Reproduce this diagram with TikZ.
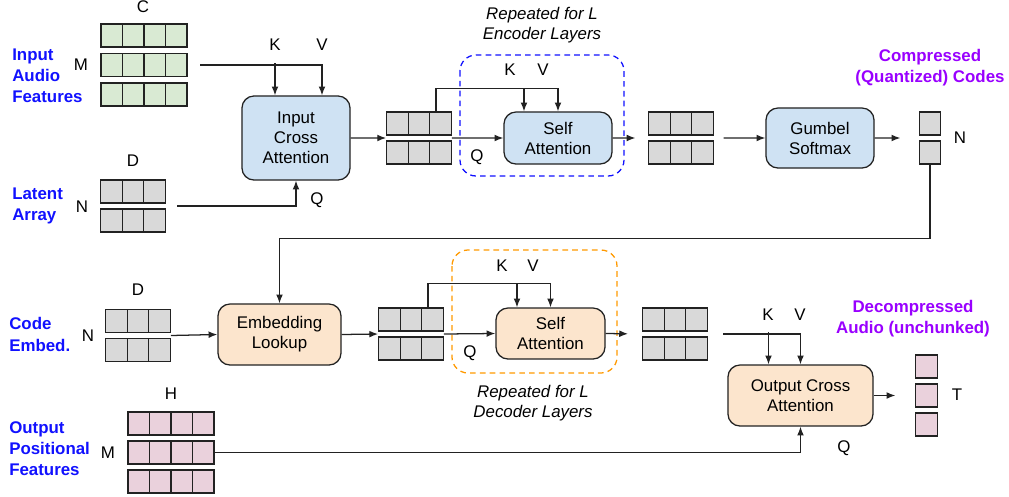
\documentclass[tikz,border=0pt]{standalone}
\usepackage{fontspec}
\setmainfont{Liberation Sans}
\usepackage{tikz}
\usetikzlibrary{arrows.meta, positioning, calc}
\usepackage{xcolor}

\definecolor{lineC}{HTML}{222222}
\definecolor{greenC}{HTML}{D9EAD3}
\definecolor{grayC}{HTML}{D9D9D9}
\definecolor{pinkC}{HTML}{EAD1DC}
\definecolor{skyC}{HTML}{CFE2F3}
\definecolor{peachC}{HTML}{FCE5CD}
\definecolor{labelBlue}{HTML}{1111FF}
\definecolor{labelPurple}{HTML}{9900FF}
\definecolor{loopOrange}{HTML}{FF9900}

\begin{document}
\begin{tikzpicture}[
    x=0.025cm, y=-0.025cm,
    font=\fontsize{12}{14.2}\selectfont,
    cellrow/.style={draw=lineC, line width=0.9pt, inner sep=0pt,
        minimum width=#1*0.5375cm, minimum height=0.575cm,
        path picture={\foreach \c in {1,...,#1}
            \draw[lineC, line width=1pt] ([xshift=\c*0.5375cm]path picture bounding box.north west)
                -- ([xshift=\c*0.5375cm]path picture bounding box.south west);}},
    inRow/.style={cellrow=4, fill=greenC},
    latRow/.style={cellrow=3, fill=grayC},
    codeRow/.style={cellrow=1, fill=grayC},
    posRow/.style={cellrow=4, fill=pinkC},
    outRow/.style={cellrow=1, fill=pinkC},
    encBox/.style={draw=lineC, line width=0.9pt, rounded corners=0.3cm, fill=skyC, align=center, inner sep=0pt},
    decBox/.style={draw=lineC, line width=0.9pt, rounded corners=0.3cm, fill=peachC, align=center, inner sep=0pt},
    arr/.style={-{Latex[length=2.2mm, width=1.7mm]}, line width=0.9pt, draw=lineC},
    sideLabel/.style={font=\fontsize{12}{15}\selectfont\bfseries, text=labelBlue, align=left, anchor=west, inner xsep=0pt},
    outLabel/.style={font=\fontsize{12}{15}\selectfont\bfseries, text=labelPurple, align=center},
    loopNote/.style={font=\fontsize{12}{14.5}\selectfont\itshape, align=center},
    dimLabel/.style={inner sep=0pt},
    encLoop/.style={draw=labelBlue, line width=0.9pt, dash pattern=on 4pt off 3pt, rounded corners=0.4cm},
    decLoop/.style={draw=loopOrange, line width=0.9pt, dash pattern=on 4pt off 3pt, rounded corners=0.4cm}
]
    \useasboundingbox (0,0) rectangle (1009,496);

    % Input Audio Features
    \node[inRow] (in1) at (144,35.5) {};
    \node[inRow] (in2) at (144,65) {};
    \node[inRow] (in3) at (144,94.5) {};
    \node[dimLabel] (cLab) at (143,7) {C};
    \node[dimLabel] (mLab) at (81,65) {M};
    \node[sideLabel] (inLab) at (12,76) {Input\\Audio\\Features};

    % Latent Array
    \node[latRow] (lat1) at (133,191.5) {};
    \node[latRow] (lat2) at (133,220.5) {};
    \node[dimLabel] (dLab) at (133,161) {D};
    \node[dimLabel] (nLab) at (82,207) {N};
    \node[sideLabel] (latLab) at (12,206) {Latent\\Array};

    % Input Cross Attention
    \node[encBox, minimum width=2.7cm, minimum height=2.1cm] (ica) at (296,138) {Input\\Cross\\Attention};
    \node[dimLabel] (icaK) at (275,45) {K};
    \node[dimLabel] (icaV) at (322,45) {V};
    \node[dimLabel] (icaQ) at (317,200) {Q};

    % Encoder Layers
    \node[latRow] (ein1) at (419,123.5) {};
    \node[latRow] (ein2) at (419,152.5) {};
    \node[encBox, minimum width=2.7cm, minimum height=1.3cm] (esa) at (558,138) {Self\\Attention};
    \node[dimLabel] (esaK) at (510,70) {K};
    \node[dimLabel] (esaV) at (543,70) {V};
    \node[dimLabel] (esaQ) at (477,157) {Q};
    \draw[encLoop] (460,55) rectangle (624,176);
    \node[loopNote] (encNote) at (542,25) {Repeated for L\\Encoder Layers};
    \node[latRow] (eout1) at (681,123.5) {};
    \node[latRow] (eout2) at (681,152.5) {};

    % Quantization
    \node[encBox, minimum width=2.7cm, minimum height=1.5cm] (gum) at (820,138) {Gumbel\\Softmax};
    \node[codeRow] (code1) at (930,123.5) {};
    \node[codeRow] (code2) at (930,152.5) {};
    \node[dimLabel] (codeN) at (960,138) {N};
    \node[outLabel] (compLab) at (930,67.5) {Compressed\\(Quantized) Codes};

    % Code Embed.
    \node[latRow] (cemb1) at (138,321) {};
    \node[latRow] (cemb2) at (138,350) {};
    \node[dimLabel] (dLab2) at (138,290) {D};
    \node[dimLabel] (nLab2) at (88,336) {N};
    \node[sideLabel] (codeLab) at (9,334.5) {Code\\Embed.};
    \node[decBox, minimum width=3.075cm, minimum height=1.525cm] (emb) at (279.5,334.5) {Embedding\\Lookup};

    % Decoder Layers
    \node[latRow] (din1) at (411,319.5) {};
    \node[latRow] (din2) at (411,348.5) {};
    \node[decBox, minimum width=2.725cm, minimum height=1.275cm] (dsa) at (550.5,333.5) {Self\\Attention};
    \node[dimLabel] (dsaK) at (502,266) {K};
    \node[dimLabel] (dsaV) at (533,266) {V};
    \node[dimLabel] (dsaQ) at (470,353) {Q};
    \draw[decLoop] (452,250) rectangle (617,373);
    \node[loopNote] (decNote) at (533,403) {Repeated for L\\Decoder Layers};
    \node[latRow] (dout1) at (675,319.5) {};
    \node[latRow] (dout2) at (675,348.5) {};

    % Output Positional Features
    \node[posRow] (pos1) at (171,423.5) {};
    \node[posRow] (pos2) at (171,452.5) {};
    \node[posRow] (pos3) at (171,481.5) {};
    \node[dimLabel] (hLab) at (171,394) {H};
    \node[dimLabel] (mLab2) at (108,453) {M};
    \node[sideLabel] (posLab) at (9,449) {Output\\Positional\\Features};

    % Output Cross Attention
    \node[decBox, minimum width=3.625cm, minimum height=1.525cm] (oca) at (800.5,395.5) {Output Cross\\Attention};
    \node[dimLabel] (ocaK) at (768,315) {K};
    \node[dimLabel] (ocaV) at (800,315) {V};
    \node[dimLabel] (ocaQ) at (844,448) {Q};
    \node[outRow] (out1) at (926.5,366.5) {};
    \node[outRow] (out2) at (926.5,395.5) {};
    \node[outRow] (out3) at (926.5,424.5) {};
    \node[dimLabel] (tLab) at (957,395) {T};
    \node[outLabel] (decompLab) at (913,318.5) {Decompressed\\Audio (unchunked)};

    % Encoder connections
    \draw[arr, shorten <=9] (in2.east) -| ($(ica.north)+(26,0)$);
    \draw[arr] ($(ica.north)+(-21,0)$) ++(0,-32) -- ($(ica.north)+(-21,0)$);
    \draw[arr, shorten <=8] ($(lat1.east)!0.5!(lat2.east)$) -| (ica.south);
    \draw[arr] (ica.east) -- ($(ein1.west)!0.5!(ein2.west)$);
    \draw[arr] ($(ein1.north east)+(-16,0)$) |- ($(esa.north)+(0,-23)$) -- (esa.north);
    \draw[arr] ($(esa.north)+(-34,-23)$) -- ($(esa.north)+(-34,0)$);
    \draw[arr] ($(ein1.east)!0.5!(ein2.east)$) -- (esa.west);
    \draw[arr, shorten >=9] (esa.east) -- ($(eout1.west)!0.5!(eout2.west)$);
    \draw[arr, shorten <=7] ($(eout1.east)!0.5!(eout2.east)$) -- (gum.west);
    \draw[arr, shorten >=13] (gum.east) -- ($(code1.west)!0.5!(code2.west)$);
    \draw[arr] (code2.south) |- ($(emb.north)+(0,-65)$) -- (emb.north);

    % Decoder connections
    \draw[arr] ($(cemb1.east)!0.5!(cemb2.east)$) -- (emb.west);
    \draw[arr] (emb.east) -- ($(din1.west)!0.5!(din2.west)$);
    \draw[arr] ($(din1.north east)+(-16,0)$) |- ($(dsa.north)+(0,-24)$) -- (dsa.north);
    \draw[arr] ($(dsa.north)+(-33.5,-24)$) -- ($(dsa.north)+(-33.5,0)$);
    \draw[arr] ($(din1.east)!0.5!(din2.east)$) -- (dsa.west);
    \draw[arr, shorten >=10] (dsa.east) -- ($(dout1.west)!0.5!(dout2.west)$);
    \draw[arr, shorten <=11] ($(dout1.east)!0.5!(dout2.east)$) -| (oca.north);
    \draw[arr] ($(oca.north)+(-32,-32)$) -- ($(oca.north)+(-32,0)$);
    \draw[arr] (pos2.east) -| (oca.south);
    \draw[arr, shorten >=14] (oca.east) -- (out2.west);
\end{tikzpicture}
\end{document}
